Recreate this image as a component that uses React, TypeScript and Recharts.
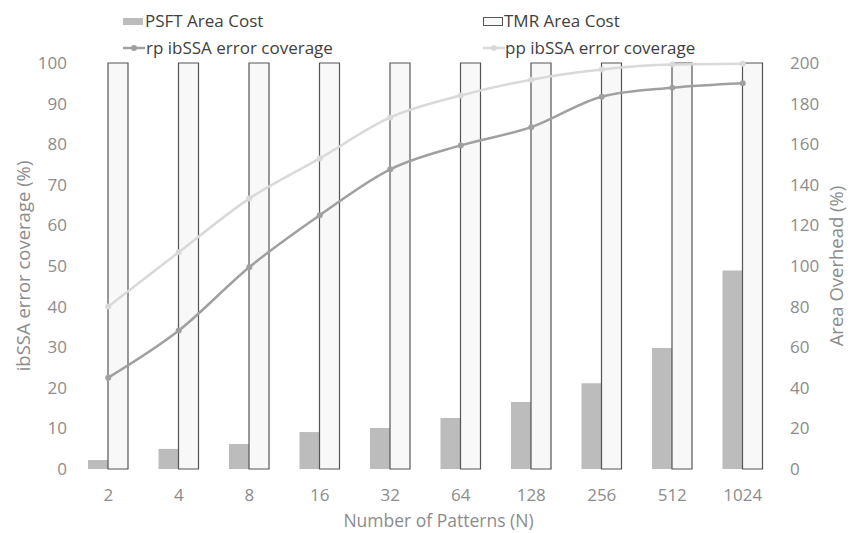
import React from 'react'
import {
  ComposedChart,
  Bar,
  Line,
  XAxis,
  YAxis,
  Label,
} from 'recharts'

const categories = ['2', '4', '8', '16', '32', '64', '128', '256', '512', '1024']
const psftAreaCost = [4.4, 9.9, 12.3, 18.2, 20.2, 25.1, 33, 42.3, 59.6, 97.8]
const tmrAreaCost = [200, 200, 200, 200, 200, 200, 200, 200, 200, 200]
const rpCoverage = [22.5, 34.1, 49.7, 62.5, 73.8, 79.7, 84.2, 91.7, 93.9, 95]
const ppCoverage = [40.0, 53.4, 66.6, 76.5, 86.6, 92.0, 95.9, 98.4, 99.6, 99.8]

const leftTicks = [0, 10, 20, 30, 40, 50, 60, 70, 80, 90, 100]
const rightTicks = [0, 20, 40, 60, 80, 100, 120, 140, 160, 180, 200]

const data = categories.map((n, i) => ({
  n,
  psft: psftAreaCost[i],
  tmr: tmrAreaCost[i],
  rp: rpCoverage[i],
  pp: ppCoverage[i],
}))

const FONT = '"Open Sans", sans-serif'
const TICK_COLOR = '#8c8c8c'
const PSFT_FILL = '#bbbcbb'
const TMR_FILL = '#f8f8f8'
const TMR_STROKE = '#555555'
const RP_COLOR = '#a0a0a0'
const PP_COLOR = '#d9d9d9'

const tickStyle = { fill: TICK_COLOR, fontSize: 17, fontFamily: FONT }

// legend drawn as an overlay so it doesn't eat into the plot area
function LegendBlock() {
  const text: React.CSSProperties = {
    position: 'absolute',
    fontFamily: FONT,
    fontSize: 17,
    color: '#404040',
    lineHeight: '20px',
    whiteSpace: 'nowrap',
  }
  const lineIcon = (color: string) => (
    <svg width={22} height={10} style={{ display: 'block' }}>
      <line x1={0} y1={5} x2={22} y2={5} stroke={color} strokeWidth={2.5} />
      <circle cx={11} cy={5} r={3} fill={color} />
    </svg>
  )
  return (
    <div style={{ position: 'absolute', left: 0, top: 0, width: 854, height: 60 }}>
      <div style={{ position: 'absolute', left: 123, top: 18, width: 20, height: 7, background: PSFT_FILL }} />
      <div style={{ ...text, left: 145, top: 11 }}>PSFT Area Cost</div>
      <div
        style={{
          position: 'absolute',
          left: 483,
          top: 17,
          width: 18,
          height: 7,
          background: TMR_FILL,
          border: `1px solid ${TMR_STROKE}`,
        }}
      />
      <div style={{ ...text, left: 504, top: 11 }}>TMR Area Cost</div>
      <div style={{ position: 'absolute', left: 123, top: 43 }}>{lineIcon(RP_COLOR)}</div>
      <div style={{ ...text, left: 146, top: 38 }}>rp ibSSA error coverage</div>
      <div style={{ position: 'absolute', left: 483, top: 43 }}>{lineIcon(PP_COLOR)}</div>
      <div style={{ ...text, left: 505, top: 38 }}>pp ibSSA error coverage</div>
    </div>
  )
}

function verticalTitle(title: string, offsetX: number) {
  return ({ viewBox }: any) => {
    const cx = viewBox.x + offsetX
    const cy = viewBox.y + viewBox.height / 2
    return (
      <text
        x={cx}
        y={cy}
        transform={`rotate(-90 ${cx} ${cy})`}
        textAnchor="middle"
        dominantBaseline="central"
        fill={TICK_COLOR}
        fontSize={18.5}
        fontFamily={FONT}
      >
        {title}
      </text>
    )
  }
}

export default function App() {
  return (
    <div style={{ position: 'absolute', left: 0, top: 0, width: 854, height: 533, background: '#fff' }}>
      <ComposedChart
        width={854}
        height={533}
        data={data}
        margin={{ top: 63, right: 0, bottom: 0, left: 0 }}
        barGap={0}
        barSize={20}
      >
        <XAxis
          dataKey="n"
          height={64}
          axisLine={false}
          tickLine={false}
          tickSize={0}
          tickMargin={20}
          tick={tickStyle}
          interval={0}
        >
          <Label
            content={({ viewBox }: any) => (
              <text
                x={viewBox.x + viewBox.width / 2 + 13}
                y={viewBox.y + 58}
                textAnchor="middle"
                fill={TICK_COLOR}
                fontSize={17.5}
                fontFamily={FONT}
              >
                Number of Patterns (N)
              </text>
            )}
          />
        </XAxis>
        <YAxis
          yAxisId="left"
          orientation="left"
          width={73}
          domain={[0, 100]}
          ticks={leftTicks}
          interval={0}
          axisLine={false}
          tickLine={false}
          tickSize={0}
          tickMargin={6}
          tick={tickStyle}
        >
          <Label content={verticalTitle('ibSSA error coverage (%)', 22)} />
        </YAxis>
        <YAxis
          yAxisId="right"
          orientation="right"
          width={76}
          domain={[0, 200]}
          ticks={rightTicks}
          interval={0}
          axisLine={false}
          tickLine={false}
          tickSize={0}
          tickMargin={12}
          tick={tickStyle}
        >
          <Label content={verticalTitle('Area Overhead (%)', 57)} />
        </YAxis>
        <Bar yAxisId="right" dataKey="psft" name="PSFT Area Cost" fill={PSFT_FILL} isAnimationActive={false} />
        <Bar
          yAxisId="right"
          dataKey="tmr"
          name="TMR Area Cost"
          fill={TMR_FILL}
          stroke={TMR_STROKE}
          strokeWidth={1.2}
          isAnimationActive={false}
        />
        <Line
          yAxisId="left"
          type="monotone"
          dataKey="rp"
          name="rp ibSSA error coverage"
          stroke={RP_COLOR}
          strokeWidth={2.5}
          dot={{ r: 3, fill: RP_COLOR, stroke: RP_COLOR, strokeWidth: 0 }}
          activeDot={false}
          isAnimationActive={false}
        />
        <Line
          yAxisId="left"
          type="monotone"
          dataKey="pp"
          name="pp ibSSA error coverage"
          stroke={PP_COLOR}
          strokeWidth={2.5}
          dot={{ r: 3, fill: PP_COLOR, stroke: PP_COLOR, strokeWidth: 0 }}
          activeDot={false}
          isAnimationActive={false}
        />
      </ComposedChart>
      <LegendBlock />
    </div>
  )
}
